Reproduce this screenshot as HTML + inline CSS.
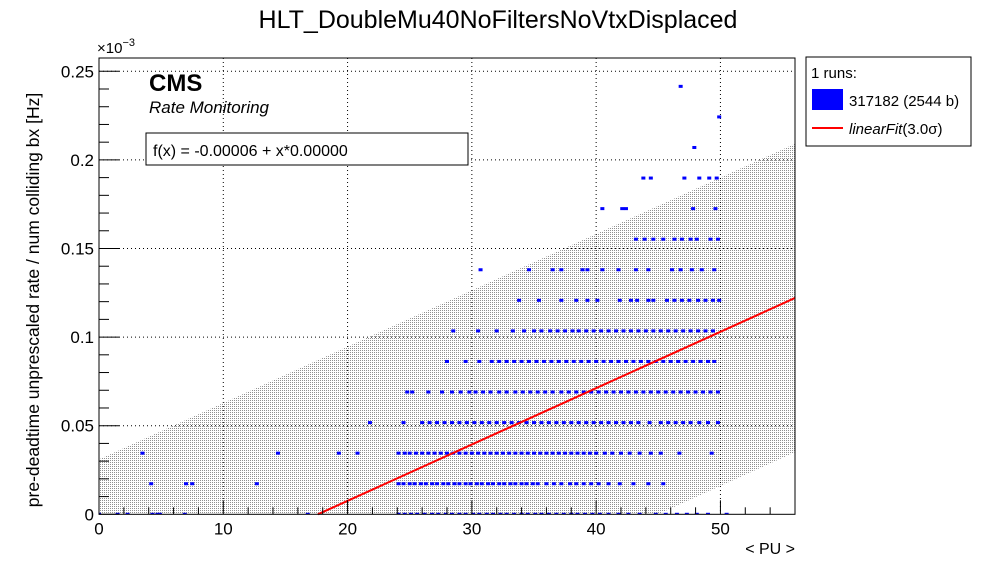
<!DOCTYPE html>
<html><head><meta charset="utf-8"><style>
html,body{margin:0;padding:0;background:#fff;width:996px;height:572px;overflow:hidden;font-family:"Liberation Sans",sans-serif}
svg{display:block}
svg text{font-family:"Liberation Sans",sans-serif}
</style></head><body>
<svg id="chart" width="996" height="572" xmlns="http://www.w3.org/2000/svg">
<defs><pattern id="hatch" width="2" height="2" patternUnits="userSpaceOnUse"><rect x="0" y="0" width="1" height="1" fill="#909090"/></pattern></defs>
<text x="498" y="28" font-size="25" text-anchor="middle">HLT_DoubleMu40NoFiltersNoVtxDisplaced</text>
<g id="plot"></g>
<text transform="translate(39,300) rotate(-90)" font-size="17.5" text-anchor="middle">pre-deadtime unprescaled rate / num colliding bx [Hz]</text>
<text x="795" y="554" font-size="16" text-anchor="end">&lt; PU &gt;</text>
<text x="97" y="53" font-size="15">×10<tspan dy="-7" font-size="11">−3</tspan></text>
<text x="149" y="91" font-size="24" font-weight="bold">CMS</text>
<text x="149" y="113" font-size="17" font-style="italic">Rate Monitoring</text>
<g><rect x="146" y="133" width="322" height="32" fill="#fff" stroke="#000"/><text x="153" y="156" font-size="16">f(x) = -0.00006 + x*0.00000</text></g>
<g>
<rect x="806" y="57" width="165" height="89" fill="#fff" stroke="#000"/>
<text x="811" y="78" font-size="15">1 runs:</text>
<rect x="812" y="89" width="31" height="21" fill="#0000ff"/>
<text x="849" y="106" font-size="15">317182 (2544 b)</text>
<line x1="812" y1="128" x2="843" y2="128" stroke="#f00" stroke-width="2"/>
<text x="849" y="134" font-size="15" font-style="italic">linearFit<tspan font-style="normal">(3.0σ)</tspan></text>
</g>
</svg>
<script>
const xTicks=[0,10,20,30,40,50];
const yTicks=[0,0.05,0.1,0.15,0.2,0.25];
const yTickLabels=["0","0.05","0.1","0.15","0.2","0.25"];
const fitIntercept=-0.056;
const fitSlope=0.00318;
const bandWidth=0.087;
const levels=[0,0.01725,0.0345,0.05175,0.069,0.08625,0.1035,0.12075,0.138,0.15525,0.1725,0.18975,0.207,0.22425,0.2415];
const rowPU=[
[0,1.5,2.3,4.3,4.7,4.9,6.9,16.8,24.1,24.6,25.1,25.6,26.2,26.8,27.3,27.9,28.4,29,29.5,30.1,30.6,31.2,31.7,32.3,32.8,33.4,34,34.5,35.1,35.6,36.2,36.8,37.4,38,38.5,39.1,39.7,40.3,41,41.8,42.6,43.5,44.8,45.6,46.5,47.3,48.1,49,50.5],
[4.2,7.0,7.5,12.7,24.1,24.5,25,25.4,25.9,26.3,26.8,27.2,27.7,28.1,28.6,29,29.5,29.9,30.4,30.8,31.3,31.7,32.2,32.6,33.1,33.5,34,34.4,34.9,35.3,36,36.6,37.2,37.9,38.4,39,39.6,40.2,41,41.9,43,44.2,45.4],
[3.5,14.4,19.3,20.8,24.1,24.6,25,25.5,26,26.5,27,27.5,28,28.5,29,29.5,30,30.5,31,31.5,32,32.5,33,33.5,34,34.5,35,35.5,36,36.5,37,37.5,38,38.5,39,39.5,40,40.7,41.3,42,42.7,43.5,44.4,45.2,46.7,49.3],
[21.8,24.5,26,26.6,27.2,27.8,28.4,29,29.6,30.2,30.8,31.4,32,32.6,33.2,33.8,34.4,35,35.6,36.2,36.8,37.4,38,38.6,39.2,39.8,40.4,41,41.6,42.2,42.8,43.4,44.3,45.2,45.8,46.4,47,47.6,48.3,49,49.8],
[24.8,25.2,26.5,27.6,28.4,29.1,29.8,30.3,30.9,31.5,32.2,32.8,33.5,34.1,34.7,35.3,35.9,36.5,37.2,37.8,38.4,39,39.6,40.2,40.8,41.4,42,42.6,43.2,43.8,44.4,45,45.6,46.2,46.8,47.4,48,48.6,49.2,49.8],
[28,29.5,30.6,31.6,32.2,32.8,33.4,34,34.6,35.2,35.8,36.4,37,37.6,38.2,38.8,39.4,40,40.6,41.2,41.8,42.4,43,43.6,44.2,44.8,45.4,46,46.6,47.2,47.8,48.4,49,49.5],
[28.5,30.5,32,33.3,34.2,35,35.6,36.3,36.9,37.5,38.1,38.6,39.2,39.8,40.4,41,41.6,42.2,42.8,43.4,44,44.6,45.2,45.8,46.4,47,47.6,48.2,48.8,49.4],
[33.8,35.4,37.2,38.4,39.3,40.1,41.9,42.8,43.3,44.2,44.6,45.7,46.3,46.9,47.5,48.2,48.8,49.4,49.9],
[30.7,34.6,36.5,37.2,38.9,39.3,40.5,41.8,43.2,44.2,46.1,46.8,47.7,48.5,49.5],
[43.2,43.9,44.6,45.4,46.3,46.9,47.6,48.1,49.2,49.8],
[40.5,42.1,42.4,47.8,49.6],
[43.8,44.4,47.1,48.3,49.1,49.7],
[47.9],[49.9],[46.8]
];
const NS="http://www.w3.org/2000/svg";
const L=99,R=795,T=58,B=514.3,XMAX=56,YMAX=0.2575;
const sx=v=>L+(v/XMAX)*(R-L);
const sy=v=>B-(v/YMAX)*(B-T);
const g=document.getElementById('plot');
function mk(tag,attrs){const e=document.createElementNS(NS,tag);for(const k in attrs)e.setAttribute(k,attrs[k]);g.appendChild(e);return e;}
const clip=document.createElementNS(NS,'clipPath');clip.setAttribute('id','pc');
const cr=document.createElementNS(NS,'rect');cr.setAttribute('x',L);cr.setAttribute('y',T);cr.setAttribute('width',R-L);cr.setAttribute('height',B-T);clip.appendChild(cr);document.querySelector('defs').appendChild(clip);
const f=x=>fitIntercept+fitSlope*x;
const band=mk('polygon',{points:`${sx(0)},${sy(f(0)+bandWidth)} ${sx(XMAX)},${sy(f(XMAX)+bandWidth)} ${sx(XMAX)},${sy(f(XMAX)-bandWidth)} ${sx(0)},${sy(f(0)-bandWidth)}`,fill:'url(#hatch)','clip-path':'url(#pc)'});


xTicks.forEach(t=>{if(t>0){const l=mk('line',{x1:sx(t),x2:sx(t),y1:T,y2:B,stroke:'#000','stroke-dasharray':'1,3'});}});
yTicks.forEach(t=>{if(t>0){const l=mk('line',{x1:L,x2:R,y1:sy(t),y2:sy(t),stroke:'#000','stroke-dasharray':'1,3'});}});
levels.forEach((lv,i)=>{rowPU[i].forEach(p=>{const r=mk('rect',{x:sx(p)-2,y:sy(lv)-1.5,width:4,height:3,fill:'#0000ff','clip-path':'url(#pc)'});});});
const x0=-fitIntercept/fitSlope;
const fl=mk('line',{x1:sx(x0),y1:sy(0),x2:sx(XMAX),y2:sy(f(XMAX)),stroke:'#f00','stroke-width':2});


const fr=mk('rect',{x:L,y:T,width:R-L,height:B-T,fill:'none',stroke:'#000'});


for(let v=0;v<=XMAX;v+=2){const major=v%10===0;const l=mk('line',{x1:sx(v),x2:sx(v),y1:B,y2:B-(major?14:7),stroke:'#000'});}
xTicks.forEach(t=>{const tx=mk('text',{x:sx(t),y:B+20,'font-size':17,'text-anchor':'middle'});tx.textContent=t;});
for(let k=0;k<=25;k++){const v=k*0.01;const major=k%5===0;const l=mk('line',{x1:L,x2:L+(major?20:10),y1:sy(v),y2:sy(v),stroke:'#000'});}
yTicks.forEach((t,i)=>{const tx=mk('text',{x:L-5,y:sy(t)+6,'font-size':17,'text-anchor':'end'});tx.textContent=yTickLabels[i];});
</script>
</body></html>
